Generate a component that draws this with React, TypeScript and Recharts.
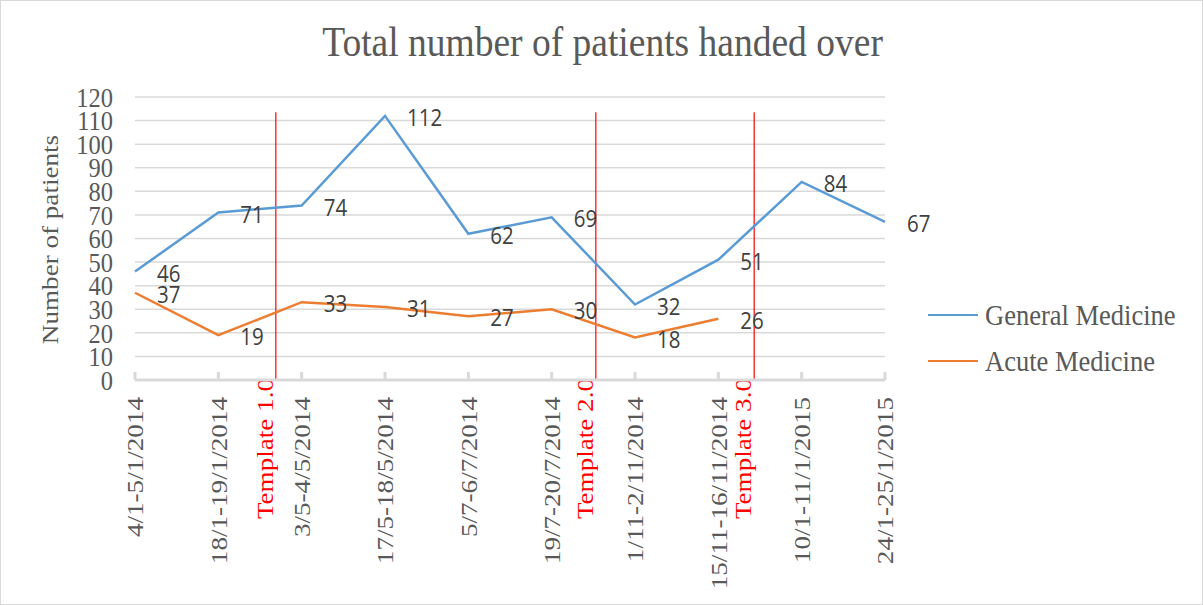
import React from "react";
import {
  LineChart, Line, XAxis, YAxis, CartesianGrid, ReferenceLine, LabelList, Legend, Label
} from "recharts";

const categories = [
  "4/1-5/1/2014",
  "18/1-19/1/2014",
  "3/5-4/5/2014",
  "17/5-18/5/2014",
  "5/7-6/7/2014",
  "19/7-20/7/2014",
  "1/11-2/11/2014",
  "15/11-16/11/2014",
  "10/1-11/1/2015",
  "24/1-25/1/2015",
];
const generalMedicine = [46, 71, 74, 112, 62, 69, 32, 51, 84, 67];
const acuteMedicine: (number | null)[] = [37, 19, 33, 31, 27, 30, 18, 26, null, null];
const yTicks = [0, 10, 20, 30, 40, 50, 60, 70, 80, 90, 100, 110, 120];
const templateNames = ["Template 1.0", "Template 2.0", "Template 3.0"];
const templatePositions = [1.69, 5.53, 7.43];
const templateTop = 113.5;

const data = categories.map((label, idx) => ({
  idx,
  label,
  general: generalMedicine[idx],
  acute: acuteMedicine[idx],
}));

const serif = "'Liberation Serif', 'Times New Roman', serif";
const grey = "#595959";
// the source picture is a bit taller than wide, so glyphs get stretched
const stretch = 1.13;

const XTick = (props: any) => {
  const { x, y, payload } = props;
  const ty = y + 17;
  return (
    <g>
      <line x1={x} x2={x} y1={y - 8} y2={y} stroke="#d9d9d9" strokeWidth={3} />
      <text
        transform={`translate(${x} ${ty}) rotate(-90) scale(${stretch} 1)`}
        dy="0.35em"
        textAnchor="end"
        fill={grey}
        fontFamily={serif}
        fontSize={24}
      >
        {categories[payload.value]}
      </text>
    </g>
  );
};

const YTick = (props: any) => {
  const { x, y, payload } = props;
  return (
    <text
      transform={`translate(${x} ${y}) scale(1 ${stretch})`}
      dy="0.35em"
      textAnchor="end"
      fill={grey}
      fontFamily={serif}
      fontSize={24.5}
    >
      {payload.value}
    </text>
  );
};

const yLabel = (props: any) => {
  const { viewBox } = props;
  const cx = 50;
  const cy = viewBox.y + viewBox.height / 2 + 1;
  return (
    <text
      transform={`translate(${cx} ${cy}) rotate(-90) scale(${stretch} 1)`}
      dy="0.35em"
      textAnchor="middle"
      fill={grey}
      fontFamily={serif}
      fontSize={24}
    >
      Number of patients
    </text>
  );
};

const valueLabel = (props: any) => {
  const { x, y, value } = props;
  if (value === null || value === undefined) return null;
  return (
    <text
      transform={`translate(${x + 22} ${y + 2}) scale(1 ${stretch})`}
      dy="0.35em"
      fill="#404040"
      fontFamily="'Open Sans', sans-serif"
      fontSize={20.5}
    >
      {value}
    </text>
  );
};

const templateLabel = (name: string) => (props: any) => {
  const { viewBox } = props;
  const lx = viewBox.x - 3;
  const ly = viewBox.y + viewBox.height - 2;
  return (
    <text
      transform={`translate(${lx} ${ly}) rotate(-90) scale(${stretch} 1)`}
      textAnchor="end"
      fill="#ff0000"
      fontFamily={serif}
      fontSize={24}
    >
      {name}
    </text>
  );
};

const LegendBox = () => (
  <div style={{ fontFamily: serif, fontSize: 26.5, color: grey }}>
    {[
      { name: "General Medicine", color: "#5b9bd5" },
      { name: "Acute Medicine", color: "#ed7d31" },
    ].map((it) => (
      <div key={it.name} style={{ display: "flex", alignItems: "center", height: 46 }}>
        <span style={{ display: "inline-block", width: 50, height: 2.5, background: it.color, marginRight: 7 }} />
        <span style={{ display: "inline-block", transform: `scaleY(${stretch})`, whiteSpace: "nowrap" }}>
          {it.name}
        </span>
      </div>
    ))}
  </div>
);

export default function App() {
  return (
    <div
      style={{
        position: "absolute",
        left: 0,
        top: 0,
        width: 1203,
        height: 605,
        border: "1px solid #d9d9d9",
        boxSizing: "border-box",
        background: "#fff",
      }}
    >
      <div
        style={{
          position: "absolute",
          left: 0,
          top: 20,
          width: 1203,
          textAlign: "center",
          fontFamily: serif,
          fontSize: 37.5,
          lineHeight: "44px",
          color: grey,
          zIndex: 2,
          transform: "scaleY(1.1)",
        }}
      >
        Total number of patients handed over
      </div>
      <div style={{ position: "absolute", left: -1, top: -1 }}>
        <LineChart
          width={1203}
          height={605}
          data={data}
          margin={{ top: 97, right: 318, bottom: 0, left: 0 }}
        >
          <CartesianGrid horizontal vertical={false} stroke="#d9d9d9" strokeWidth={1.5} />
          <XAxis
            dataKey="idx"
            type="number"
            domain={[0, 9]}
            ticks={categories.map((_, i) => i)}
            interval={0}
            height={225}
            tick={<XTick />}
            tickLine={false}
            tickSize={0}
            tickMargin={0}
            axisLine={{ stroke: "#d9d9d9", strokeWidth: 3 }}
          />
          <YAxis
            domain={[0, 120]}
            ticks={yTicks}
            interval={0}
            width={135}
            axisLine={false}
            tickLine={false}
            tickSize={0}
            tickMargin={22}
            tick={<YTick />}
          >
            <Label content={yLabel} />
          </YAxis>
          {templatePositions.map((pos, i) => (
            <ReferenceLine
              key={templateNames[i]}
              segment={[{ x: pos, y: 0 }, { x: pos, y: templateTop }]}
              stroke="#ff0000"
              strokeWidth={1.2}
              label={templateLabel(templateNames[i])}
            />
          ))}
          <Line
            dataKey="general"
            name="General Medicine"
            stroke="#5b9bd5"
            strokeWidth={2.5}
            dot={false}
            isAnimationActive={false}
          >
            <LabelList dataKey="general" content={valueLabel} />
          </Line>
          <Line
            dataKey="acute"
            name="Acute Medicine"
            stroke="#ed7d31"
            strokeWidth={2.5}
            dot={false}
            isAnimationActive={false}
          >
            <LabelList dataKey="acute" content={valueLabel} />
          </Line>
          <Legend
            layout="vertical"
            align="center"
            verticalAlign="middle"
            content={<LegendBox />}
            wrapperStyle={{ left: 928, top: 292, width: 272 }}
          />
        </LineChart>
      </div>
    </div>
  );
}
